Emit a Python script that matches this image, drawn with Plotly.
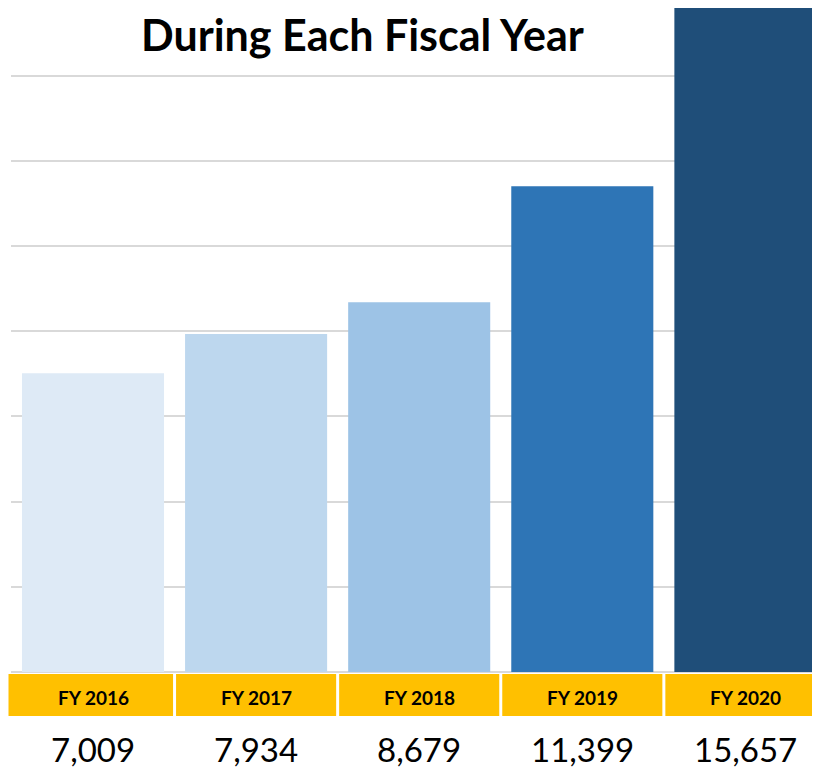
import plotly.graph_objects as go

categories = ["FY 2016", "FY 2017", "FY 2018", "FY 2019", "FY 2020"]
values = [7009, 7934, 8679, 11399, 15657]
value_labels = ["7,009", "7,934", "8,679", "11,399", "15,657"]
bar_colors = ["#DEEAF6", "#BDD7EE", "#9DC3E6", "#2E75B6", "#1F4E79"]
grid_vals = [0, 2000, 4000, 6000, 8000, 10000, 12000, 14000]

OFF = 8  # page body margin
W, H = 820 - OFF, 769 - OFF
FONT = "Lato"


def fx(p):
    return (p - OFF) / W


def fy(p):
    return 1 - (p - OFF) / H


# category geometry (reference pixels)
c0, step = 93.0, 163.1
left_px = 11.0
r0 = (left_px - c0) / step
r1 = (820 - c0) / step

fig = go.Figure()
fig.add_trace(go.Bar(
    x=list(range(len(categories))), y=values,
    marker=dict(color=bar_colors, line=dict(width=0)),
    hoverinfo="skip", showlegend=False,
))

shapes = []
annotations = []
for i, cat in enumerate(categories):
    xa = c0 + step * (i - 0.5)
    xb = c0 + step * (i + 0.5)
    if i == 0:
        xa = 7
    if i == len(categories) - 1:
        xb = 819
    shapes.append(dict(type="rect", xref="paper", yref="paper",
                       x0=fx(xa + 1.5), x1=fx(xb - 1.5),
                       y0=fy(716), y1=fy(674),
                       fillcolor="#FFC000", line=dict(width=0), layer="above"))
    xc = fx(c0 + step * i)
    annotations.append(dict(x=xc, y=fy(697), xref="paper", yref="paper",
                            text="<b>" + cat + "</b>", showarrow=False,
                            font=dict(family=FONT, size=19, color="#000000"),
                            xanchor="center", yanchor="middle"))
    annotations.append(dict(x=xc, y=fy(749), xref="paper", yref="paper",
                            text=value_labels[i], showarrow=False,
                            font=dict(family=FONT, size=33, color="#000000"),
                            xanchor="center", yanchor="middle"))

annotations.append(dict(x=fx(362), y=1, xref="paper", yref="paper",
                        text="<b>During Each Fiscal Year</b>", showarrow=False,
                        font=dict(family=FONT, size=43, color="#000000"),
                        xanchor="center", yanchor="top", borderpad=0))

px_per_unit = (672 - 75.5) / 14000
y_top = (672 - OFF) / px_per_unit
y_bot = -(769 - 672) / px_per_unit

fig.update_layout(
    width=W, height=H,
    margin=dict(l=0, r=0, t=0, b=0),
    paper_bgcolor="white", plot_bgcolor="white",
    bargap=0.129,
    xaxis=dict(domain=[fx(left_px), 1], range=[r0, r1], showgrid=False,
               showticklabels=False, zeroline=False, showline=False, ticks=""),
    yaxis=dict(domain=[0, 1], range=[y_bot, y_top], tickvals=grid_vals,
               showgrid=True, gridcolor="#D9D9D9", gridwidth=2,
               showticklabels=False, zeroline=False, showline=False, ticks=""),
    shapes=shapes,
    annotations=annotations,
    font=dict(family=FONT),
)

fig.write_html("out.html")
